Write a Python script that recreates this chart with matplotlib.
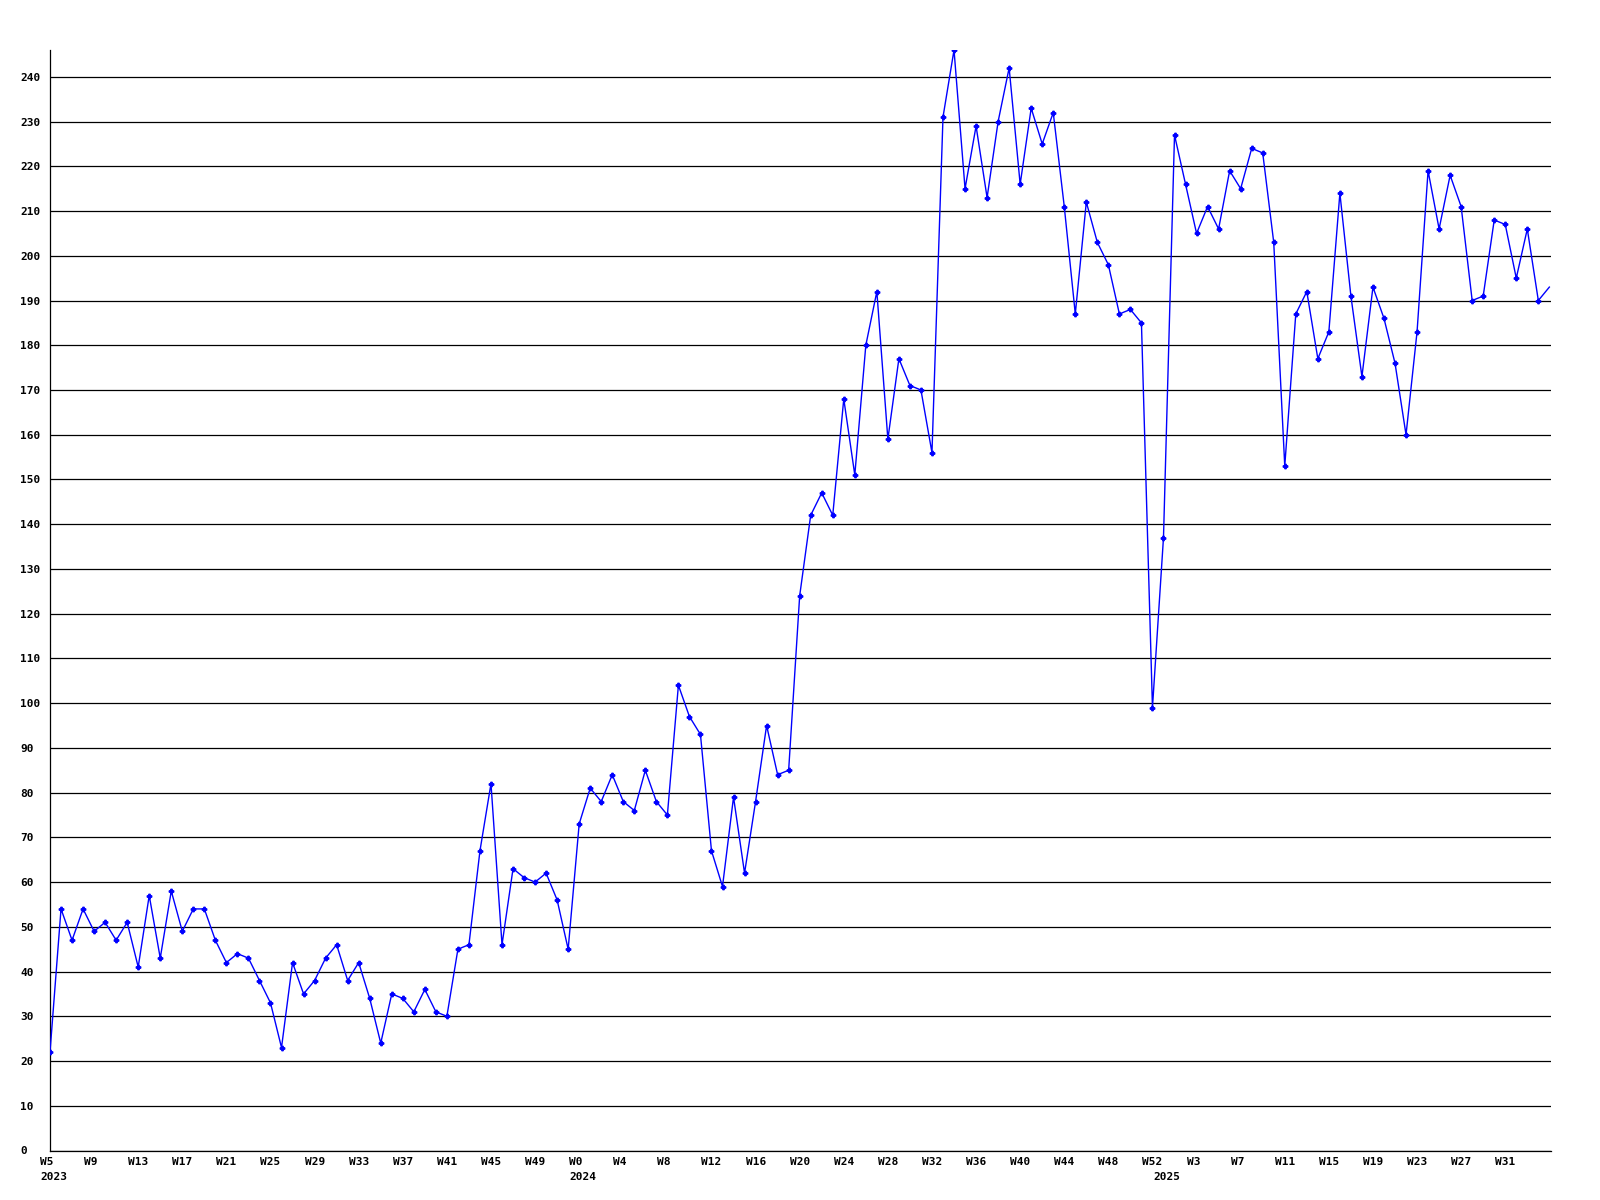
import matplotlib
matplotlib.use("Agg")
import matplotlib.pyplot as plt
from matplotlib.transforms import ScaledTranslation

# weekly values, 2023 W5 onwards (last point is the current, partial week)
values = [
    22, 54, 47, 54, 49, 51, 47, 51, 41, 57, 43, 58, 49, 54, 54, 47, 42, 44, 43, 38,
    33, 23, 42, 35, 38, 43, 46, 38, 42, 34, 24, 35, 34, 31, 36, 31, 30, 45, 46, 67,
    82, 46, 63, 61, 60, 62, 56, 45, 73, 81, 78, 84, 78, 76, 85, 78, 75, 104, 97, 93,
    67, 59, 79, 62, 78, 95, 84, 85, 124, 142, 147, 142, 168, 151, 180, 192, 159, 177, 171, 170,
    156, 231, 246, 215, 229, 213, 230, 242, 216, 233, 225, 232, 211, 187, 212, 203, 198, 187, 188, 185,
    99, 137, 227, 216, 205, 211, 206, 219, 215, 224, 223, 203, 153, 187, 192, 177, 183, 214, 191, 173,
    193, 186, 176, 160, 183, 219, 206, 218, 211, 190, 191, 208, 207, 195, 206, 190, 193,
]

week_labels = [
    "W5", "W9", "W13", "W17", "W21", "W25", "W29", "W33", "W37", "W41", "W45", "W49",
    "W0", "W4", "W8", "W12", "W16", "W20", "W24", "W28", "W32", "W36", "W40", "W44", "W48", "W52",
    "W3", "W7", "W11", "W15", "W19", "W23", "W27", "W31",
]
years = ["2023", "2024", "2025"]
year_start_idx = [0, 48, 101]   # first week of each year in the series
y_ticks = list(range(0, 250, 10))

font = dict(family="DejaVu Sans Mono", weight="bold", size=8)

fig = plt.figure(figsize=(16, 12), dpi=100)
ax = fig.add_axes([50 / 1600, 1 - 1150.5 / 1200, 1501 / 1600, 1100.5 / 1200])

x = list(range(len(values)))
ax.plot(x, values, color="#0000ff", lw=1.0, marker="P", markersize=3.2,
        markevery=slice(0, len(values) - 1), zorder=3)

ax.set_xlim(0, 136.15)
ax.set_ylim(0, max(values))

ax.set_yticks(y_ticks)
ax.set_yticklabels([str(v) for v in y_ticks], fontdict=font)
ax.yaxis.grid(True, color="black", lw=0.9)
ax.set_axisbelow(True)

ax.xaxis.remove_overlapping_locs = False
ax.set_xticks(range(0, 4 * len(week_labels), 4))
ax.set_xticklabels(week_labels, fontdict=font, ha="left")
ax.set_xticks(year_start_idx, minor=True)
ax.set_xticklabels(years, minor=True, fontdict=font, ha="left")

ax.tick_params(axis="both", which="both", length=0)
ax.tick_params(axis="y", pad=21.6)
ax.tick_params(axis="x", which="major", pad=4.5)
ax.tick_params(axis="x", which="minor", pad=15.5)
plt.setp(ax.get_yticklabels(), ha="left")

shift = ScaledTranslation(-10 / 100, 0, fig.dpi_scale_trans)
for lbl in ax.get_xticklabels() + ax.get_xticklabels(minor=True):
    lbl.set_transform(lbl.get_transform() + shift)

for side in ["top", "right"]:
    ax.spines[side].set_visible(False)
ax.spines["left"].set_linewidth(0.9)
ax.spines["bottom"].set_linewidth(0.9)

fig.savefig("out.png", dpi=100)
